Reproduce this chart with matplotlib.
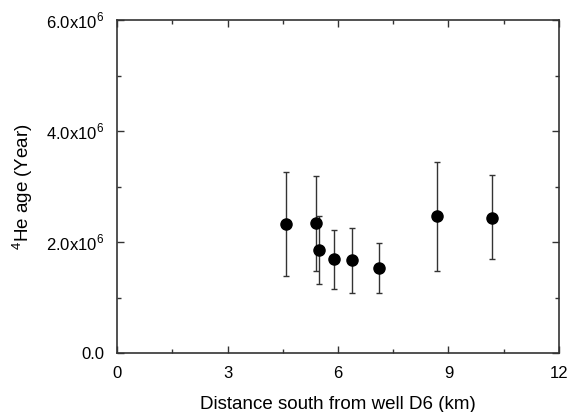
import matplotlib
matplotlib.use("Agg")
import matplotlib.pyplot as plt
from matplotlib.ticker import FixedLocator, MultipleLocator
import numpy as np

# distance south from well D6 (km) and 4He age (years)
distance = [4.59, 5.39, 5.48, 5.88, 6.38, 7.10, 8.68, 10.18]
age = [2.32e6, 2.34e6, 1.85e6, 1.69e6, 1.68e6, 1.54e6, 2.47e6, 2.44e6]
age_upper = [3.26e6, 3.19e6, 2.46e6, 2.22e6, 2.25e6, 1.98e6, 3.45e6, 3.21e6]
age_lower = [1.39e6, 1.48e6, 1.25e6, 1.15e6, 1.09e6, 1.09e6, 1.48e6, 1.69e6]

x_ticks = [0, 3, 6, 9, 12]
y_ticks = [0, 2e6, 4e6, 6e6]
y_labels = ["0.0", "2.0x10$^6$", "4.0x10$^6$", "6.0x10$^6$"]

plt.rcParams["font.family"] = ["Liberation Sans", "DejaVu Sans"]
plt.rcParams["mathtext.fontset"] = "custom"
plt.rcParams["mathtext.rm"] = "Liberation Sans"

fig = plt.figure(figsize=(5.71, 4.12), dpi=100)
ax = fig.add_axes([117 / 571, 1 - 353 / 412, 442 / 571, 333 / 412])

age = np.array(age)
yerr = [age - np.array(age_lower), np.array(age_upper) - age]
ax.errorbar(distance, age, yerr=yerr, fmt="o", color="black", ms=8,
            ecolor="#333333", elinewidth=1.0, capsize=2.5, capthick=1.0)

ax.set_xlim(0, 12)
ax.set_ylim(0, 6e6)
ax.xaxis.set_major_locator(FixedLocator(x_ticks))
ax.xaxis.set_minor_locator(MultipleLocator(1.5))
ax.set_yticks(y_ticks)
ax.set_yticklabels(y_labels)
ax.yaxis.set_minor_locator(MultipleLocator(1e6))

ax.tick_params(which="both", direction="in", top=True, right=True,
               labelsize=12, width=1.0, color="#333333")
ax.tick_params(which="major", length=5)
ax.tick_params(which="minor", length=3)
ax.tick_params(axis="x", pad=9)
ax.tick_params(axis="y", pad=9)
for s in ax.spines.values():
    s.set_linewidth(1.2)
    s.set_color("#333333")

ax.set_xlabel("Distance south from well D6 (km)", fontsize=13.5, labelpad=11)
ax.set_ylabel("$^4$He age (Year)", fontsize=13.5, labelpad=8)

fig.savefig("out.png", dpi=100)
